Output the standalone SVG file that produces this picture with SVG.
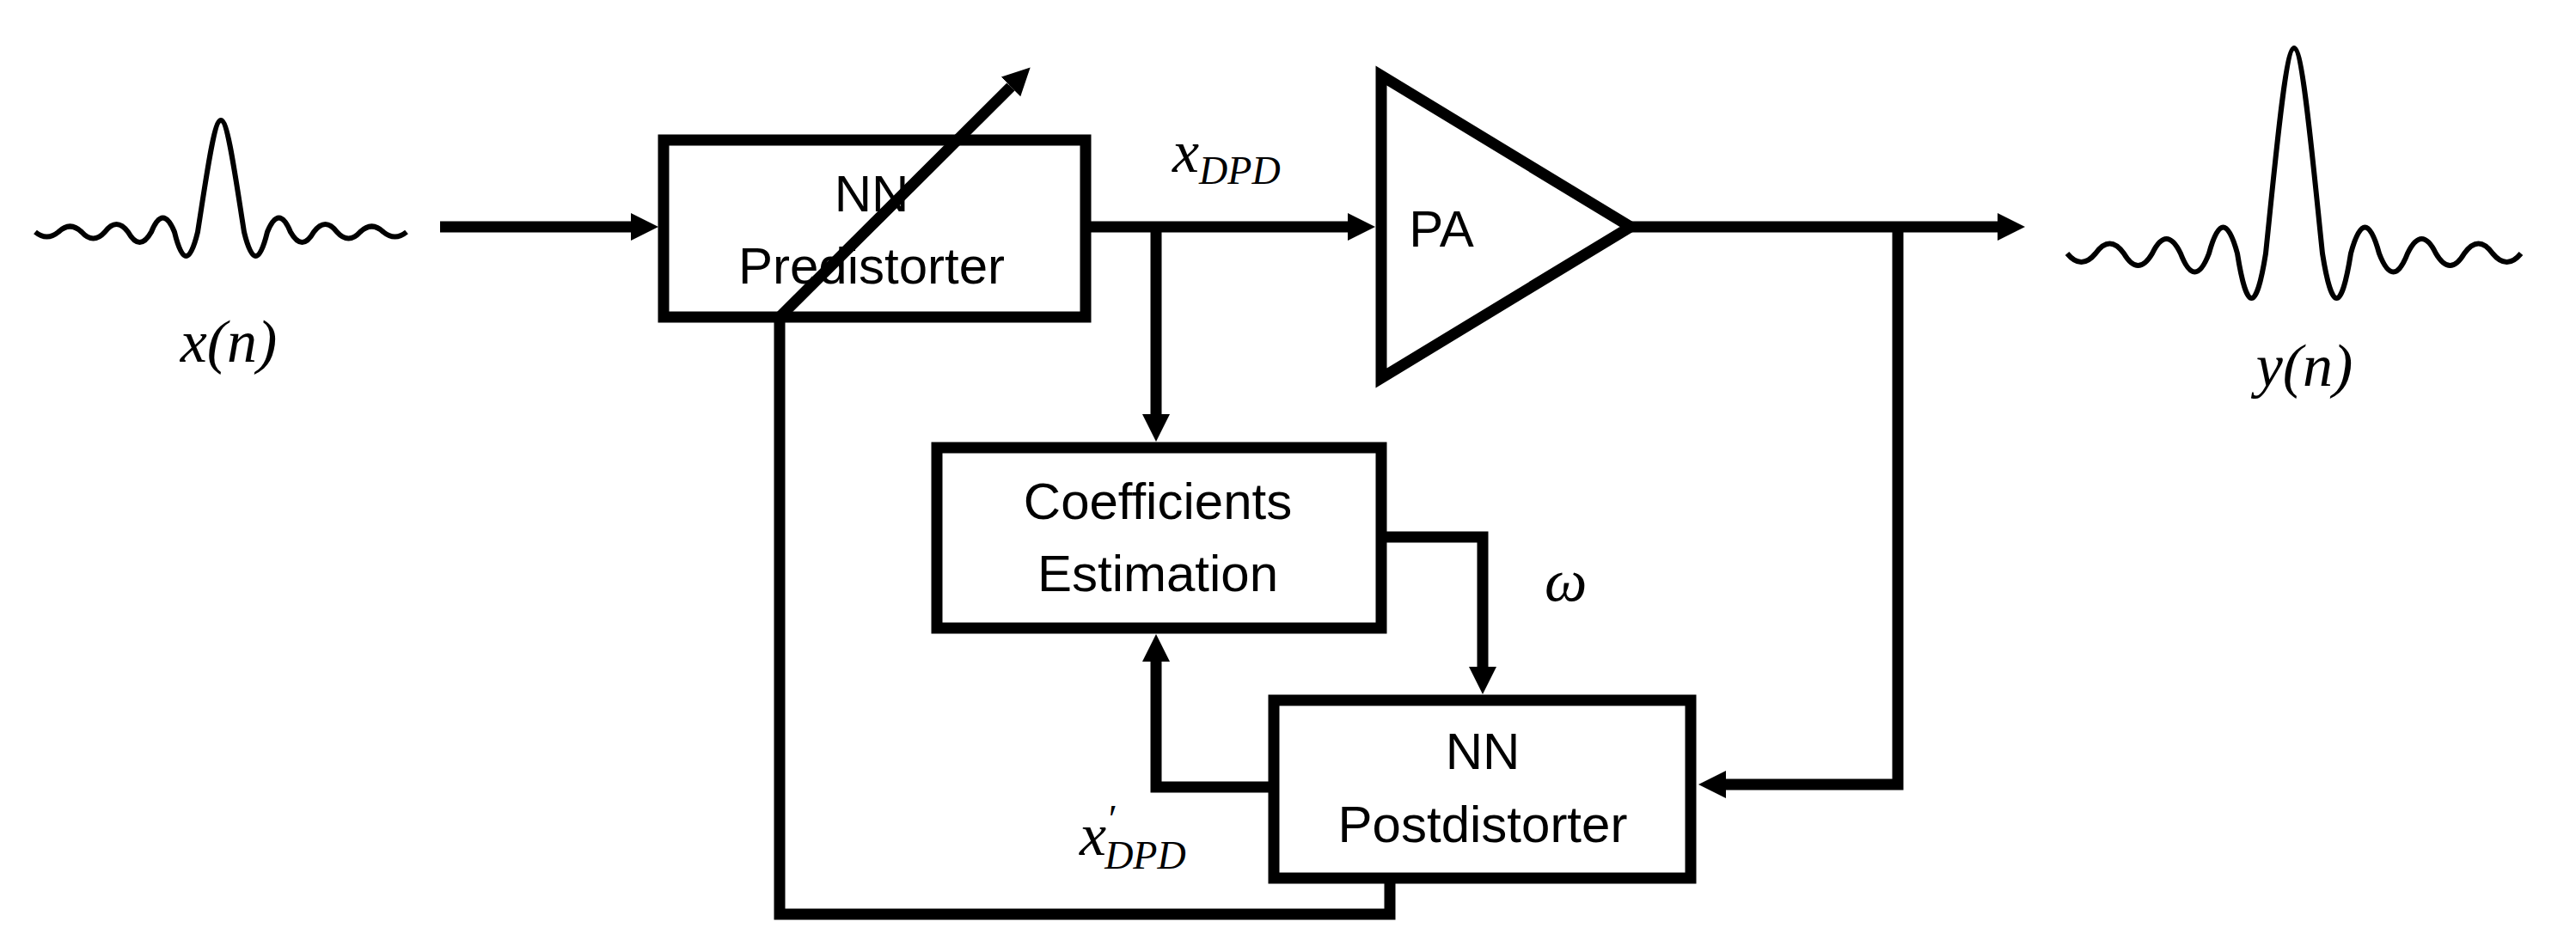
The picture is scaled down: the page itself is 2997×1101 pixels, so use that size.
<svg xmlns="http://www.w3.org/2000/svg" width="2997" height="1101" viewBox="0 0 2997 1101">
<style>
.box{fill:none;stroke:#000;stroke-width:13}
.ln{fill:none;stroke:#000;stroke-width:13;stroke-linejoin:miter}
.wave{fill:none;stroke:#000;stroke-width:6;stroke-linejoin:round}
.lbl{font-family:"Liberation Sans",Arial,sans-serif;font-size:60px;fill:#000;text-anchor:middle}
.m{font-family:"Liberation Serif","Times New Roman",serif;font-style:italic;font-size:70px;fill:#000}
.sub{font-size:46px}
</style>
<defs>
<marker id="ah" markerUnits="userSpaceOnUse" markerWidth="34" markerHeight="34" refX="0" refY="16" orient="auto">
<path d="M0,0 L32,16 L0,32 z" fill="#000"/>
</marker>
</defs>
<rect width="2997" height="1101" fill="#fff"/>
<g id="input-wave">
<path class="wave" d="M41 270 Q54.5 281 68 270 Q81.5 257 95 270 Q108.5 285 122 270 Q135.5 252 149 270 Q162.5 294 176 270 Q189.5 237 203 270 Q216.5 326 230 270 C241 200 249 140 257 140 C265 140 273 200 284 270 Q297.5 326 311 270 Q324.5 237 338 270 Q351.5 294 365 270 Q378.5 252 392 270 Q405.5 285 419 270 Q432.5 257 446 270 Q459.5 281 473 270"/>
<text class="m" x="266" y="421" text-anchor="middle">x(n)</text>
</g>
<g id="output-wave">
<path class="wave" d="M2405 295 Q2421.5 315 2438 295 Q2454.5 272 2471 295 Q2487.5 323 2504 295 Q2520.5 261 2537 295 Q2553.5 338 2570 295 Q2586.5 234 2603 295 Q2619.5 399 2636 295 C2648 180 2659 56 2669 56 C2679 56 2690 180 2702 295 Q2718.5 399 2735 295 Q2751.5 234 2768 295 Q2784.5 338 2801 295 Q2817.5 261 2834 295 Q2850.5 323 2867 295 Q2883.5 272 2900 295 Q2916.5 315 2933 295"/>
<text class="m" x="2681" y="449" text-anchor="middle">y(n)</text>
</g>
<g id="predistorter">
<rect class="box" x="772" y="163" width="491" height="206"/>
<text class="lbl" x="1014" y="246">NN</text>
<text class="lbl" x="1014" y="330">Predistorter</text>
</g>
<g id="pa">
<polygon class="box" points="1607,88 1607,440 1897,264"/>
<text class="lbl" x="1677" y="287">PA</text>
</g>
<g id="coefficients">
<rect class="box" x="1090" y="521" width="517" height="210"/>
<text class="lbl" x="1347" y="604">Coefficients</text>
<text class="lbl" x="1347" y="688">Estimation</text>
</g>
<g id="postdistorter">
<rect class="box" x="1482" y="815" width="485" height="207"/>
<text class="lbl" x="1725" y="895">NN</text>
<text class="lbl" x="1725" y="980">Postdistorter</text>
</g>
<g id="connectors">
<line class="ln" x1="512" y1="264" x2="734" y2="264" marker-end="url(#ah)"/>
<line class="ln" x1="1263" y1="264" x2="1568" y2="264" marker-end="url(#ah)"/>
<line class="ln" x1="1345" y1="264" x2="1345" y2="482" marker-end="url(#ah)"/>
<line class="ln" x1="1897" y1="264" x2="2324" y2="264" marker-end="url(#ah)"/>
<polyline class="ln" points="2208,264 2208,913 2008,913" marker-end="url(#ah)"/>
<polyline class="ln" points="1607,625 1725,625 1725,776" marker-end="url(#ah)"/>
<polyline class="ln" points="1482,916 1345,916 1345,770" marker-end="url(#ah)"/>
<polyline class="ln" points="1617,1022 1617,1064 907,1064 907,369"/>
<line class="ln" x1="907" y1="369" x2="1176" y2="101" stroke-width="11" marker-end="url(#ah)"/>
<text class="m" x="1364" y="200">x<tspan class="sub" dy="14">DPD</tspan></text>
<text class="m" x="1797" y="699">ω</text>
<text class="m" x="1256" y="995">x<tspan class="sub" dy="-26">′</tspan><tspan class="sub" dx="-12" dy="42">DPD</tspan></text>
</g>
</svg>
